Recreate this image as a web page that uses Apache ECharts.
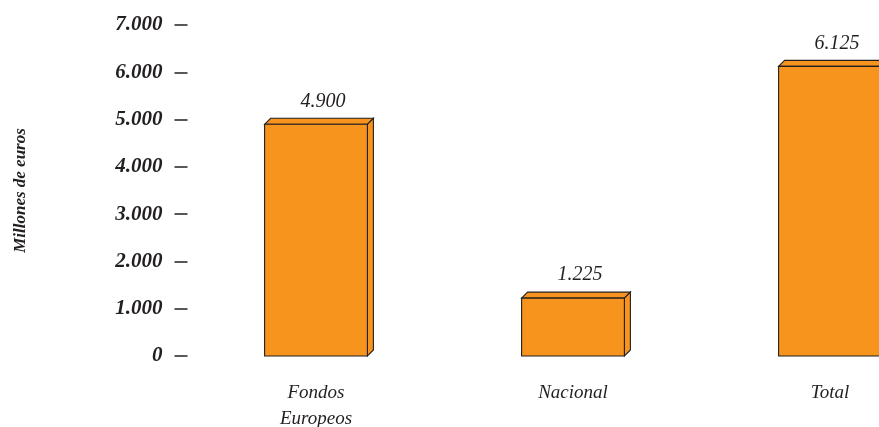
<!DOCTYPE html>
<html>
<head>
<meta charset="utf-8">
<script src="https://cdn.jsdelivr.net/npm/echarts@6/dist/echarts.min.js"></script>
<style>
html,body{margin:0;padding:0;background:#fff;}
#chart{width:879px;height:427px;}
</style>
</head>
<body>
<div id="chart"></div>
<script>
const categories = ['Fondos\nEuropeos', 'Nacional', 'Total'];
const values = [4900, 1225, 6125];
const yMin = 0, yMax = 7000, yStep = 1000;
const axisName = 'Millones de euros';

function fmt(v) {
  return String(Math.round(v)).replace(/\B(?=(\d{3})+(?!\d))/g, '.');
}

const FONT = '"Liberation Serif", "Times New Roman", serif';
const ORANGE = '#F7941E';
const EDGE = '#231F20';

const chart = echarts.init(document.getElementById('chart'), null, {renderer: 'canvas'});
chart.setOption({
  animation: false,
  backgroundColor: '#ffffff',
  grid: {left: 187.5, right: -79.5, top: 25, bottom: 71, containLabel: false, outerBoundsMode: 'none'},
  xAxis: {
    type: 'category',
    data: categories,
    axisLine: {show: false},
    axisTick: {show: false},
    axisLabel: {
      margin: 24,
      fontFamily: FONT, fontStyle: 'italic', fontSize: 19, color: '#231F20',
      lineHeight: 26
    }
  },
  yAxis: {
    type: 'value',
    min: yMin, max: yMax, interval: yStep,
    name: axisName,
    nameLocation: 'middle',
    nameGap: 158,
    nameTextStyle: {fontFamily: FONT, fontStyle: 'italic', fontWeight: 'bold', fontSize: 17, color: '#231F20'},
    axisLine: {show: false},
    splitLine: {show: false},
    axisTick: {show: true, inside: false, length: 13, lineStyle: {color: '#231F20', width: 1.5}},
    axisLabel: {
      margin: 25,
      fontFamily: FONT, fontStyle: 'italic', fontWeight: 'bold', fontSize: 21, color: '#231F20',
      formatter: fmt
    }
  },
  series: [{
    type: 'custom',
    clip: false,
    data: values.map((v, i) => [i, v]),
    renderItem: function (params, api) {
      const top = api.coord([api.value(0), api.value(1)]);
      const base = api.coord([api.value(0), 0]);
      const band = api.size([1, 0])[0];
      const w = band * 0.4;
      const d = 6;
      const x0 = top[0] - w / 2, x1 = top[0] + w / 2;
      const yt = top[1], yb = base[1];
      const st = {fill: ORANGE, stroke: EDGE, lineWidth: 1.1};
      return {
        type: 'group',
        children: [
          {type: 'polygon', shape: {points: [[x0, yt], [x0 + d, yt - d], [x1 + d, yt - d], [x1, yt]]}, style: st},
          {type: 'polygon', shape: {points: [[x1, yt], [x1 + d, yt - d], [x1 + d, yb - d], [x1, yb]]}, style: st},
          {type: 'rect', shape: {x: x0, y: yt, width: w, height: yb - yt}, style: st},
          {type: 'text', style: {
            x: top[0] + 7, y: yt - 23, text: fmt(api.value(1)),
            textAlign: 'center', textVerticalAlign: 'middle',
            font: 'italic 20px ' + FONT, fill: '#231F20'
          }}
        ]
      };
    }
  }]
});
</script>
</body>
</html>
